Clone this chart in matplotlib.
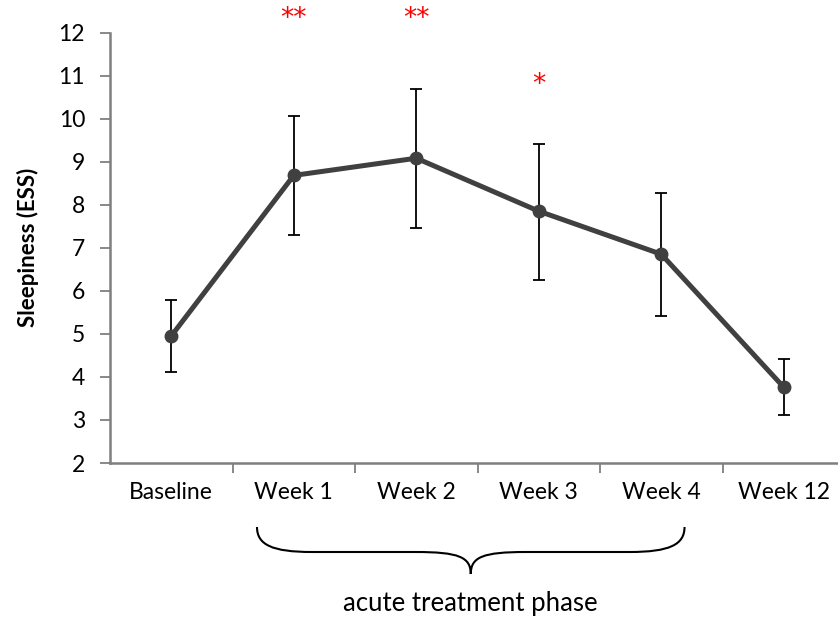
import matplotlib
matplotlib.use("Agg")
import matplotlib.pyplot as plt
from matplotlib.path import Path
from matplotlib.patches import PathPatch
from matplotlib.transforms import blended_transform_factory

plt.rcParams["font.family"] = ["Lato", "DejaVu Sans"]

categories = ["Baseline", "Week 1", "Week 2", "Week 3", "Week 4", "Week 12"]
ess_mean = [4.95, 8.68, 9.08, 7.85, 6.85, 3.76]
err_upper = [5.78, 10.05, 10.68, 9.42, 8.27, 4.41]
err_lower = [4.12, 7.30, 7.46, 6.25, 5.41, 3.11]
sig_marks = ["", "**", "**", "*", "", ""]
sig_heights = [None, 12.32, 12.32, 10.77, None, None]
phase_label = "acute treatment phase"

fig = plt.figure(figsize=(8.38, 6.2), dpi=100)
ax = fig.add_axes([110 / 838, 157 / 620, 735 / 838, 430.5 / 620])

x = list(range(len(categories)))
yerr = [[m - lo for m, lo in zip(ess_mean, err_lower)],
        [hi - m for m, hi in zip(ess_mean, err_upper)]]

ax.errorbar(x, ess_mean, yerr=yerr, fmt="none", ecolor="black",
            elinewidth=1.3, capsize=4.5, capthick=1.3, zorder=2)
ax.plot(x, ess_mean, color="#404040", linewidth=3.6, marker="o",
        markersize=9, zorder=3)

for xi, mark, h in zip(x, sig_marks, sig_heights):
    if mark:
        ax.text(xi, h, mark, color="#ff0000", fontsize=19, ha="center",
                va="center", clip_on=False, fontfamily="DejaVu Sans")

ax.set_xlim(-0.5, len(categories) - 0.5)
ax.set_ylim(2, 12)
ax.set_yticks(range(2, 13))
ax.set_xticks(x)
ax.set_xticklabels(categories)
ax.set_xticks([i + 0.5 for i in x[:-1]], minor=True)
ax.tick_params(axis="x", which="major", length=0, pad=14, labelsize=16.5)
ax.tick_params(axis="x", which="minor", length=7, width=1.3, color="#7f7f7f")
ax.tick_params(axis="y", length=7, width=1.3, color="#7f7f7f", labelsize=16.5, pad=11)

for side in ("top", "right"):
    ax.spines[side].set_visible(False)
for side in ("left", "bottom"):
    ax.spines[side].set_color("#7f7f7f")
    ax.spines[side].set_linewidth(1.8)

ax.set_ylabel("Sleepiness (ESS)", fontsize=16, fontweight="bold", labelpad=14)

# brace under the acute weeks
trans = blended_transform_factory(ax.transData, fig.transFigure)
x0, x1 = 0.70, 4.19
xc = (x0 + x1) / 2
ytop, ymid, ybot = 93 / 620, 68 / 620, 46 / 620
r = 0.45
verts = [
    (x0, ytop), (x0, ymid + 0.012), (x0 + 0.12, ymid), (x0 + r, ymid),
    (xc - r, ymid),
    (xc - 0.1, ymid), (xc, ymid - 0.008), (xc, ybot),
    (xc, ymid - 0.008), (xc + 0.1, ymid), (xc + r, ymid),
    (x1 - r, ymid),
    (x1 - 0.12, ymid), (x1, ymid + 0.012), (x1, ytop),
]
codes = [Path.MOVETO, Path.CURVE4, Path.CURVE4, Path.CURVE4,
         Path.LINETO,
         Path.CURVE4, Path.CURVE4, Path.CURVE4,
         Path.CURVE4, Path.CURVE4, Path.CURVE4,
         Path.LINETO,
         Path.CURVE4, Path.CURVE4, Path.CURVE4]
brace = PathPatch(Path(verts, codes), transform=trans, fill=False,
                  edgecolor="black", linewidth=1.5, clip_on=False)
ax.add_patch(brace)
ax.text(xc, 16 / 620, phase_label, transform=trans, ha="center",
        va="center", fontsize=18.5)

fig.savefig("out.png", dpi=100, facecolor="white")
